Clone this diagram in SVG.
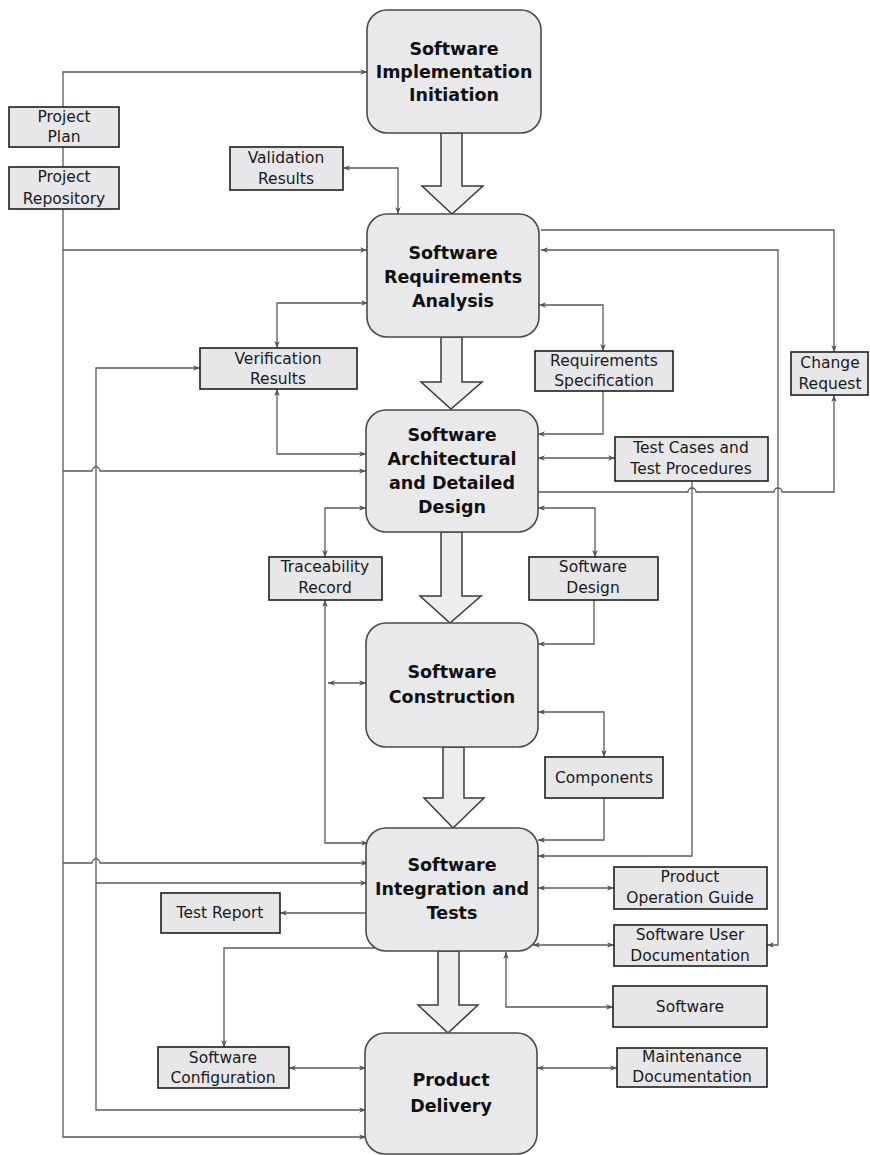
<svg xmlns="http://www.w3.org/2000/svg" width="870" height="1155" viewBox="0 0 870 1155">
<defs>
<marker id="ah" viewBox="0 0 10 10" refX="10" refY="5" markerWidth="8" markerHeight="7" markerUnits="userSpaceOnUse" orient="auto-start-reverse">
<path d="M0,1 L10,5 L0,9 L3,5 z" fill="#555"/>
</marker>
<style>
.c{fill:none;stroke:#5a5a5a;stroke-width:1.3}
.b{marker-start:url(#ah);marker-end:url(#ah)}
.e{marker-end:url(#ah)}
.p{fill:#e9e9ec;stroke:#4a4a4a;stroke-width:1.6}
.r{fill:#e7e7e9;stroke:#1e1e1e;stroke-width:1.6}
.ba{fill:#ededee;stroke:#3a3a3a;stroke-width:1.5}
.pt{font-family:"DejaVu Sans",sans-serif;font-weight:bold;font-size:17.5px;fill:#111;text-anchor:middle}
.st{font-family:"DejaVu Sans",sans-serif;font-size:15.5px;fill:#1a1a1a;text-anchor:middle}
</style>
</defs>
<rect width="870" height="1155" fill="#fff"/>

<g id="block-arrows">
<polygon class="ba" points="441,133 441,186 422,186 452,214 483,186 462,186 462,133"/>
<polygon class="ba" points="441,337 441,382 421,382 451,409 482,382 462,382 462,337"/>
<polygon class="ba" points="441,532 441,596 420,596 450,623 481,596 462,596 462,532"/>
<polygon class="ba" points="443,747 443,798 424,798 453,828 484,798 464,798 464,747"/>
<polygon class="ba" points="438,951 438,1005 418,1005 448,1033 478,1005 459,1005 459,951"/>
</g>

<g id="connectors">
<path class="c e" d="M63,107 V72 H367"/>
<path class="c" d="M63,147 V167"/>
<path class="c e" d="M63,209 V1137 H366"/>
<path class="c e" d="M63,250 H367"/>
<path class="c e" d="M63,471 H92 a4,4 0 0 1 8,0 H366"/>
<path class="c e" d="M63,863 H92 a4,4 0 0 1 8,0 H368"/>
<path class="c b" d="M200,368 H96 V1110 H366"/>
<path class="c e" d="M96,883 H367"/>
<path class="c b" d="M343,168 H398 V214"/>
<path class="c b" d="M277,348 V303 H368"/>
<path class="c b" d="M277,389 V454 H366"/>
<path class="c b" d="M366,508 H325 V557"/>
<path class="c b" d="M325,600 V843 H368"/>
<path class="c b" d="M328,683 H366"/>
<path class="c e" d="M541,230 H834 V352"/>
<path class="c b" d="M767,945 H778 V250 H541"/>
<path class="c b" d="M539,305 H603 V351"/>
<path class="c e" d="M603,391 V434 H538"/>
<path class="c b" d="M538,458 H615"/>
<path class="c e" d="M538,492 H688 a4,4 0 0 1 8,0 H774 a4,4 0 0 1 8,0 H834 V395"/>
<path class="c b" d="M538,508 H595 V557"/>
<path class="c e" d="M692,481 V856 H538"/>
<path class="c e" d="M594,600 V644 H538"/>
<path class="c b" d="M538,712 H604 V757"/>
<path class="c e" d="M604,798 V840 H538"/>
<path class="c b" d="M538,888 H614"/>
<path class="c b" d="M533,945 H614"/>
<path class="c e" d="M367,913 H280"/>
<path class="c e" d="M375,948 H224 V1047"/>
<path class="c b" d="M289,1068 H366"/>
<path class="c b" d="M613,1007 H506 V952"/>
<path class="c b" d="M537,1068 H617"/>
</g>

<g id="initiation">
<rect class="p" x="367" y="10" width="174" height="123" rx="20"/>
<text class="pt" x="454" y="55">Software</text>
<text class="pt" x="454" y="78">Implementation</text>
<text class="pt" x="454" y="101">Initiation</text>
</g>
<g id="requirements-analysis">
<rect class="p" x="367" y="214" width="172" height="123" rx="20"/>
<text class="pt" x="453" y="259">Software</text>
<text class="pt" x="453" y="283">Requirements</text>
<text class="pt" x="453" y="307">Analysis</text>
</g>
<g id="architectural-design">
<rect class="p" x="366" y="410" width="172" height="122" rx="20"/>
<text class="pt" x="452" y="441">Software</text>
<text class="pt" x="452" y="465">Architectural</text>
<text class="pt" x="452" y="489">and Detailed</text>
<text class="pt" x="452" y="513">Design</text>
</g>
<g id="construction">
<rect class="p" x="366" y="623" width="172" height="124" rx="20"/>
<text class="pt" x="452" y="678">Software</text>
<text class="pt" x="452" y="703">Construction</text>
</g>
<g id="integration-tests">
<rect class="p" x="366" y="828" width="172" height="123" rx="20"/>
<text class="pt" x="452" y="871">Software</text>
<text class="pt" x="452" y="895">Integration and</text>
<text class="pt" x="452" y="919">Tests</text>
</g>
<g id="product-delivery">
<rect class="p" x="365" y="1033" width="172" height="121" rx="20"/>
<text class="pt" x="451" y="1086">Product</text>
<text class="pt" x="451" y="1112">Delivery</text>
</g>

<g id="project-plan">
<rect class="r" x="9" y="107" width="110" height="40"/>
<text class="st" x="64" y="122">Project</text>
<text class="st" x="64" y="142">Plan</text>
</g>
<g id="project-repository">
<rect class="r" x="9" y="167" width="110" height="42"/>
<text class="st" x="64" y="182">Project</text>
<text class="st" x="64" y="204">Repository</text>
</g>
<g id="validation-results">
<rect class="r" x="230" y="147" width="113" height="43"/>
<text class="st" x="286" y="163">Validation</text>
<text class="st" x="286" y="184">Results</text>
</g>
<g id="verification-results">
<rect class="r" x="200" y="348" width="157" height="41"/>
<text class="st" x="278" y="364">Verification</text>
<text class="st" x="278" y="384">Results</text>
</g>
<g id="requirements-specification">
<rect class="r" x="535" y="351" width="138" height="40"/>
<text class="st" x="604" y="366">Requirements</text>
<text class="st" x="604" y="386">Specification</text>
</g>
<g id="change-request">
<rect class="r" x="791" y="352" width="77" height="43"/>
<text class="st" x="830" y="368">Change</text>
<text class="st" x="830" y="389">Request</text>
</g>
<g id="test-cases">
<rect class="r" x="615" y="437" width="153" height="44"/>
<text class="st" x="691" y="453">Test Cases and</text>
<text class="st" x="691" y="474">Test Procedures</text>
</g>
<g id="traceability-record">
<rect class="r" x="269" y="557" width="113" height="43"/>
<text class="st" x="325" y="572">Traceability</text>
<text class="st" x="325" y="593">Record</text>
</g>
<g id="software-design">
<rect class="r" x="529" y="557" width="129" height="43"/>
<text class="st" x="593" y="572">Software</text>
<text class="st" x="593" y="593">Design</text>
</g>
<g id="components">
<rect class="r" x="545" y="757" width="118" height="41"/>
<text class="st" x="604" y="783">Components</text>
</g>
<g id="product-operation-guide">
<rect class="r" x="614" y="867" width="153" height="42"/>
<text class="st" x="690" y="882">Product</text>
<text class="st" x="690" y="903">Operation Guide</text>
</g>
<g id="software-user-documentation">
<rect class="r" x="614" y="925" width="153" height="41"/>
<text class="st" x="690" y="940">Software User</text>
<text class="st" x="690" y="961">Documentation</text>
</g>
<g id="software">
<rect class="r" x="613" y="986" width="154" height="41"/>
<text class="st" x="690" y="1012">Software</text>
</g>
<g id="maintenance-documentation">
<rect class="r" x="617" y="1048" width="150" height="39"/>
<text class="st" x="692" y="1062">Maintenance</text>
<text class="st" x="692" y="1082">Documentation</text>
</g>
<g id="test-report">
<rect class="r" x="161" y="893" width="119" height="40"/>
<text class="st" x="220" y="918">Test Report</text>
</g>
<g id="software-configuration">
<rect class="r" x="158" y="1047" width="131" height="41"/>
<text class="st" x="223" y="1063">Software</text>
<text class="st" x="223" y="1083">Configuration</text>
</g>
</svg>
